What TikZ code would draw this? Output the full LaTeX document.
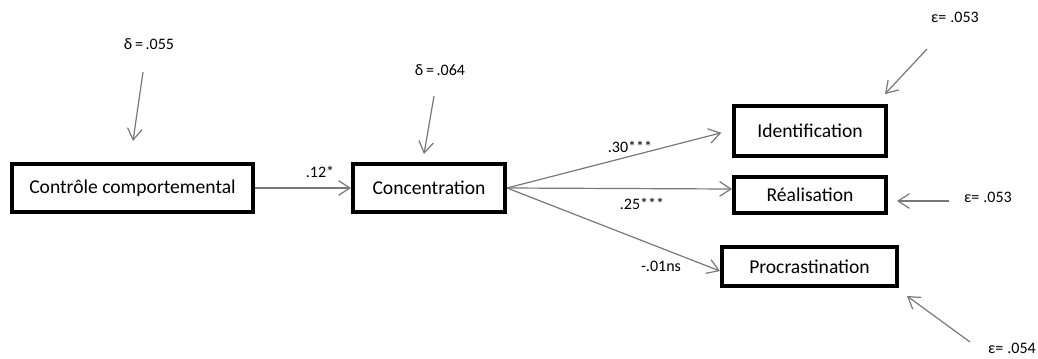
\documentclass[tikz,border=0pt]{standalone}
\usepackage{fontspec}
\setmainfont{Carlito}
\usepackage{tikz}
\usetikzlibrary{arrows.meta}
\definecolor{lgray}{RGB}{120,120,120}

\begin{document}
\begin{tikzpicture}[x=0.75pt,y=-0.75pt,
    var/.style={draw=black,line width=3pt,minimum height=#1*0.75pt,inner sep=0pt,font=\fontsize{14.7}{17}\selectfont},
    var/.default=48,
    path/.style={draw=lgray,line width=0.9pt,-{Straight Barb[length=8.5pt,width=11pt,line width=0.9pt]}},
    lbl/.style={font=\fontsize{12}{14}\selectfont,inner sep=0pt}]
    \useasboundingbox (0,0) rectangle (1038,358);
    % variables
    \node[var,minimum width=241*0.75pt] (ctrl) at (132.5,188) {Contrôle comportemental};
    \node[var,minimum width=152*0.75pt] (conc) at (429,188) {Concentration};
    \node[var=50,minimum width=152*0.75pt] (ident) at (810,131) {Identification};
    \node[var=36,minimum width=152*0.75pt] (real) at (810,195) {Réalisation};
    \node[var=39,minimum width=175*0.75pt] (procr) at (809.5,266.5) {Procrastination};
    % error terms
    \node[lbl] (d1) at (149,44) {δ\kern2pt=\kern2pt.055};
    \node[lbl] (d2) at (440,70) {δ\kern2pt=\kern2pt.064};
    \node[lbl] (e1) at (955,17) {ε=\kern3pt.053};
    \node[lbl] (e2) at (988,197) {ε=\kern3pt.053};
    \node[lbl] (e3) at (1012,348) {ε=\kern3pt.054};
    \coordinate (d1a) at (143,72);
    \coordinate (d1b) at (133,141);
    \coordinate (d2a) at (434,96);
    \coordinate (d2b) at (424,154);
    \coordinate (e1a) at (927,49);
    \coordinate (e1b) at (885,94);
    \coordinate (e2a) at (949,201);
    \coordinate (e2b) at (897,201);
    \coordinate (e3a) at (970,342);
    \coordinate (e3b) at (907,296);
    \draw[path] (d1a) -- (d1b);
    \draw[path] (d2a) -- (d2b);
    \draw[path] (e1a) -- (e1b);
    \draw[path] (e2a) -- (e2b);
    \draw[path] (e3a) -- (e3b);
    % paths
    \draw[path] (ctrl.east) -- (conc.west);
    \draw[path,shorten >=8.25pt] (conc.east) -- ([yshift=0.75pt]ident.west);
    \draw[path] (conc.east) -- ([yshift=4.5pt]real.west);
    \draw[path] (conc.east) -- ([yshift=-3.4pt]procr.west);
    \node[lbl] at (320,172) {.12*};
    \node[lbl] at (630,147) {.30***};
    \node[lbl] at (642,204) {.25***};
    \node[lbl] at (661,266) {-.01ns};
\end{tikzpicture}
\end{document}
